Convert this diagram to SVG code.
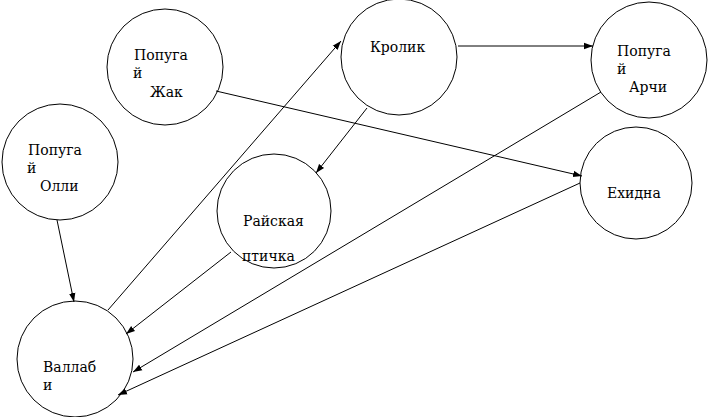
<svg xmlns="http://www.w3.org/2000/svg" width="708" height="417" viewBox="0 0 708 417">
<defs>
<style>
.node circle{fill:#fff;stroke:#000;stroke-width:1}
.node text{font-family:"DejaVu Serif","Liberation Serif",serif;font-size:14px;fill:#000}
#connectors line{stroke:#000;stroke-width:1;fill:none;marker-end:url(#arr)}
</style>
<marker id="arr" markerUnits="userSpaceOnUse" markerWidth="10" markerHeight="8" refX="9" refY="4" orient="auto">
<path d="M0,0.8 L9,4 L0,7.2 Z" fill="#000"/>
</marker>
</defs>
<rect width="708" height="417" fill="#fff"/>
<g id="n-zhak" class="node"><circle cx="165" cy="67" r="58"/><text x="134" y="60">Попуга</text><text x="133" y="78">й</text><text x="150" y="97">Жак</text></g>
<g id="n-olli" class="node"><circle cx="60" cy="162" r="58"/><text x="28" y="155">Попуга</text><text x="27" y="173">й</text><text x="40" y="191">Олли</text></g>
<g id="n-krolik" class="node"><circle cx="399" cy="57" r="58"/><text x="370" y="52">Кролик</text></g>
<g id="n-archi" class="node"><circle cx="649" cy="60" r="58"/><text x="617" y="56">Попуга</text><text x="617" y="74">й</text><text x="629" y="92">Арчи</text></g>
<g id="n-ekhidna" class="node"><circle cx="636" cy="183" r="56"/><text x="607" y="198">Ехидна</text></g>
<g id="n-rajskaya" class="node"><circle cx="274" cy="211" r="57"/><text x="243" y="226">Райская</text><text x="242" y="261">птичка</text></g>
<g id="n-vallabi" class="node"><circle cx="75" cy="359" r="58"/><text x="43" y="372">Валлаб</text><text x="43" y="390">и</text></g>
<g id="connectors">
<line x1="108" y1="310" x2="341" y2="41"/>
<line x1="216" y1="91" x2="582" y2="176"/>
<line x1="367" y1="108" x2="316" y2="173"/>
<line x1="458" y1="46" x2="593" y2="46"/>
<line x1="57" y1="220" x2="74" y2="302"/>
<line x1="231" y1="252" x2="126" y2="334"/>
<line x1="601" y1="92" x2="133" y2="372"/>
<line x1="580" y1="183" x2="118" y2="395"/>
</g>
</svg>
